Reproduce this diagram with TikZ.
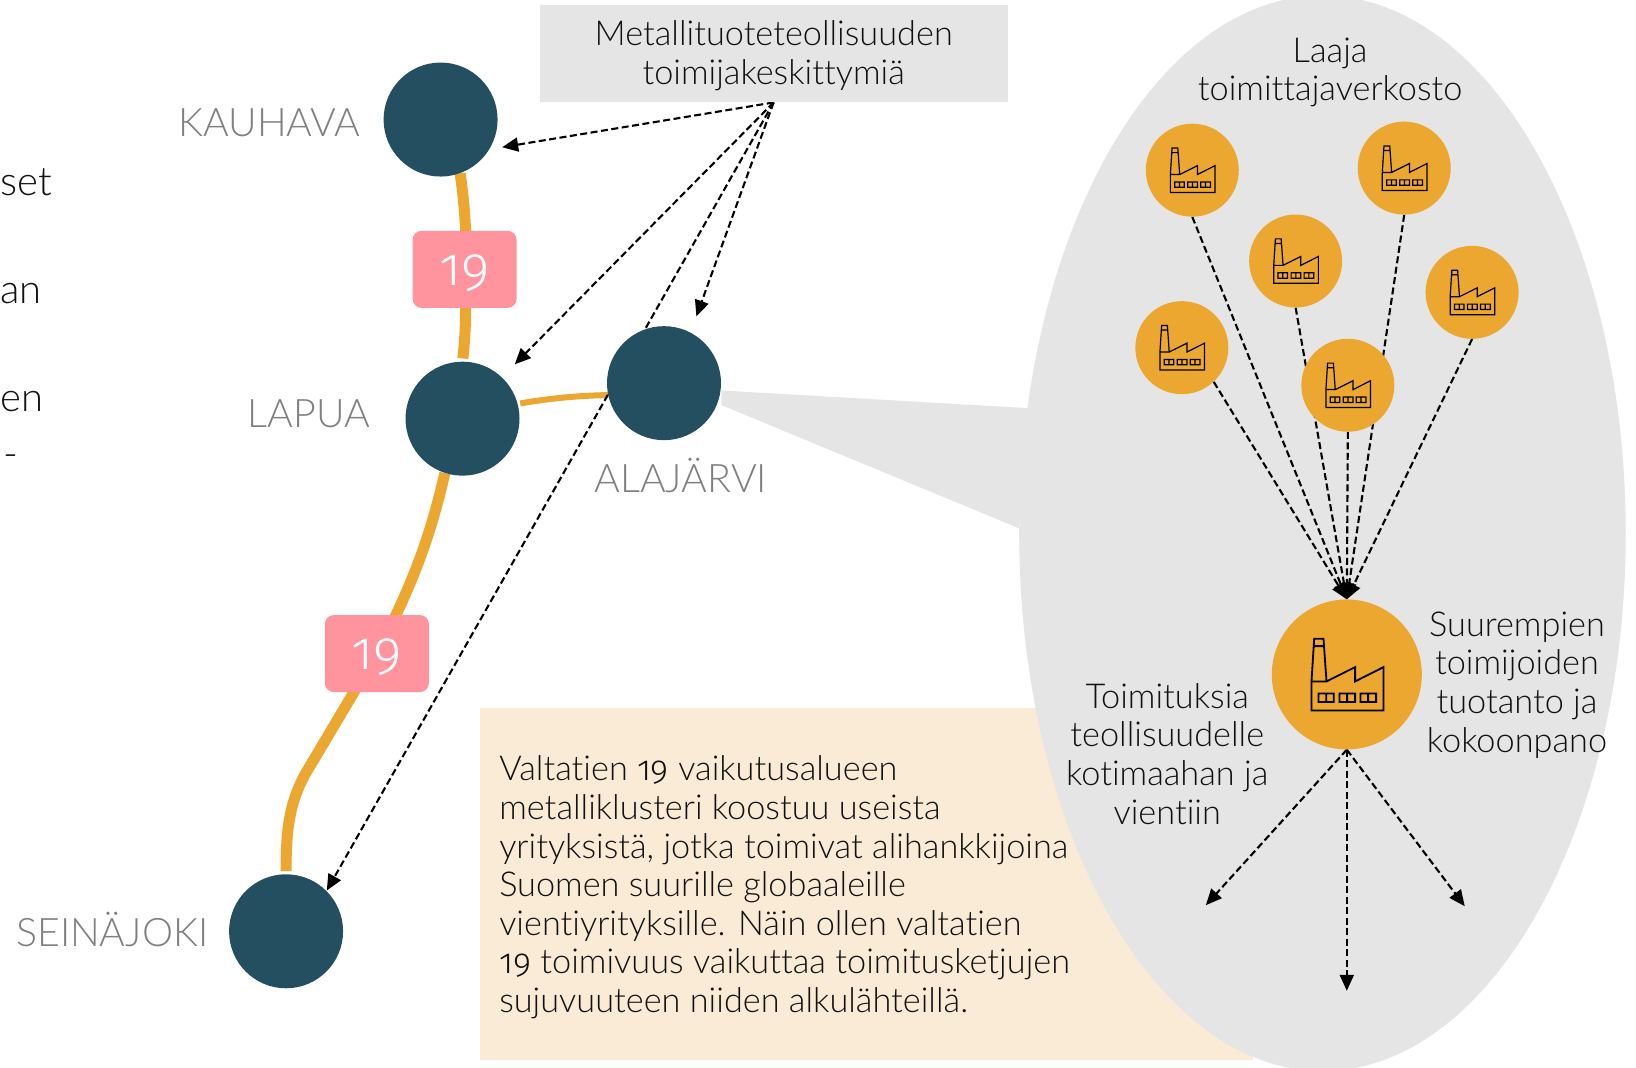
\documentclass[tikz,border=0pt]{standalone}
\usepackage{fontspec}
\setmainfont[Ligatures=NoCommon,UprightFont=* Light]{Lato}
\newfontfamily\oldnum[Numbers=OldStyle,UprightFont=* Light]{Fira Sans}
\usetikzlibrary{arrows.meta,shapes.geometric}
\pgfdeclarelayer{bg}
\pgfdeclarelayer{wires}
\pgfsetlayers{bg,wires,main}
\definecolor{cdark}{HTML}{244F60}
\definecolor{corange}{HTML}{EBA72F}
\definecolor{cpink}{HTML}{FF939E}
\definecolor{cgrey}{HTML}{E5E5E5}
\definecolor{cbeige}{HTML}{FAEBD7}
\definecolor{clabel}{HTML}{7F7F7F}
\definecolor{ctext}{HTML}{111111}
\tikzset{
  x=1.044pt,y=-1.044pt,
  bodyfont/.style={font=\fontsize{34.3}{38.6}\selectfont,text=ctext},
  city/.style={circle,fill=cdark,minimum size=114pt,inner sep=0pt},
  citylabel/.style={font=\fontsize{39.3}{40}\selectfont,text=clabel},
  smallfac/.style={circle,fill=corange,minimum size=93pt,inner sep=0pt},
  bigfac/.style={circle,fill=corange,minimum size=150pt,inner sep=0pt},
  road/.style={draw=corange,line width=11pt},
  thinroad/.style={draw=corange,line width=6pt},
  sign/.style={rectangle,rounded corners=9pt,fill=cpink,minimum width=104pt,minimum height=77pt,inner sep=0pt,text=white,text height=31.4pt,text depth=0pt,font=\oldnum\fontsize{54}{54}\selectfont},
  flow/.style={draw=black,line width=2.1pt,dash pattern=on 7pt off 3.5pt,-{Triangle[length=16pt,width=14pt]}},
  cut/.style={font=\fontsize{40}{40}\selectfont,text=ctext,anchor=base west,inner sep=0pt},
  pics/factory/.style={code={
    \draw[line width=#1,draw=black]
      (-98,-107) -- (-70,-107) -- (-61,21) -- (-106,21) -- cycle
      (-100,-85) -- (-68,-85)
      (-106,21) -- (-106,108) -- (110,108) -- (110,-22) -- (25,21) -- (25,-22) -- (-61,21)
      (-85,57) rectangle (-39,83) (-62,57) -- (-62,83)
      (-22,57) rectangle (25,83) (1,57) -- (1,83)
      (41,57) rectangle (88,83) (64,57) -- (64,83);
  }}
}
\begin{document}
\begin{tikzpicture}
\useasboundingbox (0,0) rectangle (1567,1022);
% cities
\node[city] (kauhava) at (422,114.5) {};
\node[city] (lapua) at (443,401) {};
\node[city] (alajarvi) at (636,367) {};
\node[city] (seinajoki) at (274,892) {};
\node[citylabel] (lk) at (258,117.5) {KAUHAVA};
\node[citylabel] (ll) at (296,396) {LAPUA};
\node[citylabel] (la) at (652,455.5) {ALAJÄRVI};
\node[citylabel] (ls) at (107.5,890.5) {SEINÄJOKI};
% road signs
\node[sign] (sign1) at (445,258) {19};
\node[sign] (sign2) at (361,626) {19};
% head box
\node[fill=cgrey,minimum width=468pt,minimum height=97pt,inner sep=0pt,align=center,bodyfont] (head) at (741,51.5) {\rule{0pt}{29pt}Metallituoteteollisuuden\\toimijakeskittymiä};
% free ends
\coordinate (endk) at (481,141);
\coordinate (endl) at (493,349);
\coordinate (enda) at (667,303);
\coordinate (ends) at (313,853);
\coordinate (out1) at (1155,867);
\coordinate (out2) at (1290,949);
\coordinate (out3) at (1403,868);
\coordinate (tip) at (1290,574);
% factories
\node[smallfac] (f1) at (1142,163) {};
\node[smallfac] (f2) at (1345,161) {};
\node[smallfac] (f3) at (1241,250) {};
\node[smallfac] (f4) at (1410,280) {};
\node[smallfac] (f5) at (1132,333) {};
\node[smallfac] (f6) at (1291,369) {};
\node[bigfac] (big) at (1290,646) {};
\foreach \n/\xx/\yy in {f1/1142/163,f2/1345/161,f3/1241/250,f4/1410/280,f5/1132/333,f6/1291/369}
  \pic[scale=.198] at (\xx,\yy) {factory=1.2pt};
\pic[scale=.319] at (1290,646) {factory=1.8pt};
% texts
\node[bodyfont,align=center] (t1) at (1274,69.5) {Laaja\\toimittajaverkosto};
\node[bodyfont,align=center] (t2) at (1453,656) {Suurempien\\toimijoiden\\tuotanto ja\\kokoonpano};
\node[bodyfont,align=center] (t3) at (1118,722) {Toimituksia\\teollisuudelle\\kotimaahan ja\\vientiin};
\node[bodyfont,align=left,anchor=west,inner sep=0pt] (t4) at (478,850) {Valtatien {\oldnum 19} vaikutusalueen\\metalliklusteri koostuu useista\\yrityksistä, jotka toimivat alihankkijoina\\Suomen suurille globaaleille\\vientiyrityksille. Näin ollen valtatien\\{\oldnum 19} toimivuus vaikuttaa toimitusketjujen\\sujuvuuteen niiden alkulähteillä.};
% cut-off text at the left edge
\node[cut] (c1) at (0,187) {set};
\node[cut] (c2) at (0,291) {an};
\node[cut] (c3) at (0,394) {en};
\node[cut] (c4) at (3,448) {-};
\begin{pgfonlayer}{bg}
  \fill[cbeige] (460,678) rectangle (1200,1015);
  \fill[cgrey] (691,374) -- (986,391) -- (976,506) -- (691,388) -- cycle;
  \node[ellipse,fill=cgrey,minimum width=606.5pt,minimum height=1075.4pt,inner sep=0pt] (oval) at (1266.7,510.8) {};
\end{pgfonlayer}
\begin{pgfonlayer}{wires}
  \draw[road,shorten >=3pt] (kauhava.-70) .. controls (447,210) and (447,240) .. (sign1.center) .. controls (447,290) and (446,320) .. (lapua.90);
  \draw[thinroad,shorten <=2.5pt] (lapua.15) .. controls (530,381) and (555,379) .. (alajarvi.192);
  \draw[road,shorten >=3pt] (lapua.-108) .. controls (412,515) and (395,560) .. (sign2.center) -- (292,742) .. controls (277,770) and (274,795) .. (seinajoki.90);
  \draw[flow] (head.south) -- (endk);
  \draw[flow] (head.south) -- (endl);
  \draw[flow] (head.south) -- (enda);
  \draw[flow] (head.south) -- (ends);
  \foreach \n in {f1,f2,f3,f4,f6}
    \draw[flow] (\n.south) -- (tip);
  \draw[flow] (f5.-47) -- (tip);
  \draw[flow] (big.south) -- (out1);
  \draw[flow] (big.south) -- (out2);
  \draw[flow] (big.south) -- (out3);
\end{pgfonlayer}
\end{tikzpicture}
\end{document}
